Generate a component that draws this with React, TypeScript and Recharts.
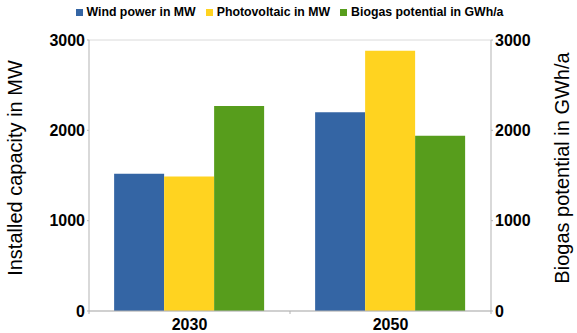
import { BarChart, Bar, XAxis, YAxis, CartesianGrid, Legend } from "recharts";

const years = ["2030", "2050"];
const windPower = [1520, 2200];
const photovoltaic = [1490, 2880];
const biogas = [2270, 1940];
const yTicks = [0, 1000, 2000, 3000];
const seriesOrder = ["wind", "pv", "biogas"];

const data = years.map((year, i) => ({
  year,
  wind: windPower[i],
  pv: photovoltaic[i],
  biogas: biogas[i],
}));

const FONT = '"Liberation Sans", Arial, sans-serif';
const AXIS = "#b3b3b3";

function AxisTitle(props: any) {
  const { viewBox, text, side } = props;
  const cx = side === "left" ? viewBox.x + 15 : viewBox.x + 71;
  const cy = 168;
  return (
    <text
      x={cx}
      y={cy}
      transform={`rotate(-90 ${cx} ${cy})`}
      textAnchor="middle"
      dominantBaseline="central"
      fontSize={20}
      fontFamily={FONT}
      fill="#000"
    >
      {text}
    </text>
  );
}

// category label plus small tick marks on the category boundaries
function YearTick(props: any) {
  const { x, y, payload, index, visibleTicksCount } = props;
  const axisY = y - 8;
  const off = payload && typeof payload.offset === "number" ? payload.offset : 0;
  const isLast = index === visibleTicksCount - 1;
  return (
    <g>
      {off > 0 && <line x1={x - off} x2={x - off} y1={axisY} y2={axisY + 3} stroke={AXIS} />}
      {off > 0 && isLast && <line x1={x + off} x2={x + off} y1={axisY} y2={axisY + 3} stroke={AXIS} />}
      <text
        x={x}
        y={y}
        dy="0.71em"
        textAnchor="middle"
        fontSize={16}
        fontWeight="bold"
        fontFamily={FONT}
        fill="#000"
      >
        {payload.value}
      </text>
    </g>
  );
}

export default function App() {
  const tickStyle = { fontSize: 16, fontWeight: "bold", fill: "#000", fontFamily: FONT };
  return (
    <div style={{ position: "absolute", left: 0, top: 0, background: "#fff" }}>
      <BarChart
        width={577}
        height={333}
        data={data}
        margin={{ top: 40, right: 0, bottom: 0, left: 0 }}
        barCategoryGap="12.5%"
        barGap={0}
      >
        <CartesianGrid vertical={false} stroke="#dadada" />
        <XAxis
          dataKey="year"
          height={22}
          tick={<YearTick />}
          tickSize={6}
          tickMargin={2}
          tickLine={false}
          axisLine={{ stroke: AXIS }}
        />
        <YAxis
          yAxisId="left"
          width={89}
          domain={[0, 3000]}
          ticks={yTicks}
          tick={tickStyle}
          tickSize={2}
          tickMargin={2}
          tickLine={{ stroke: AXIS }}
          axisLine={{ stroke: AXIS }}
          label={{ content: (p: any) => <AxisTitle {...p} side="left" text="Installed capacity in MW" /> }}
        />
        <YAxis
          yAxisId="right"
          orientation="right"
          width={86}
          domain={[0, 3000]}
          ticks={yTicks}
          tick={tickStyle}
          tickSize={2}
          tickMargin={2}
          tickLine={{ stroke: AXIS }}
          axisLine={{ stroke: AXIS }}
          label={{ content: (p: any) => <AxisTitle {...p} side="right" text="Biogas potential in GWh/a" /> }}
        />
        <Legend
          layout="horizontal"
          verticalAlign="middle"
          align="center"
          iconType="square"
          iconSize={7}
          itemSorter={(item: any) => seriesOrder.indexOf(item.dataKey)}
          wrapperStyle={{ top: 5, left: 6, width: 577, fontFamily: FONT, fontSize: 12.3, fontWeight: "bold" }}
          formatter={(value: string) => <span style={{ color: "#000" }}>{value}</span>}
        />
        <Bar yAxisId="left" dataKey="wind" name="Wind power in MW" fill="#3465a4" isAnimationActive={false} />
        <Bar yAxisId="left" dataKey="pv" name="Photovoltaic in MW" fill="#ffd320" isAnimationActive={false} />
        <Bar yAxisId="right" dataKey="biogas" name="Biogas potential in GWh/a" fill="#579d1c" isAnimationActive={false} />
      </BarChart>
    </div>
  );
}
